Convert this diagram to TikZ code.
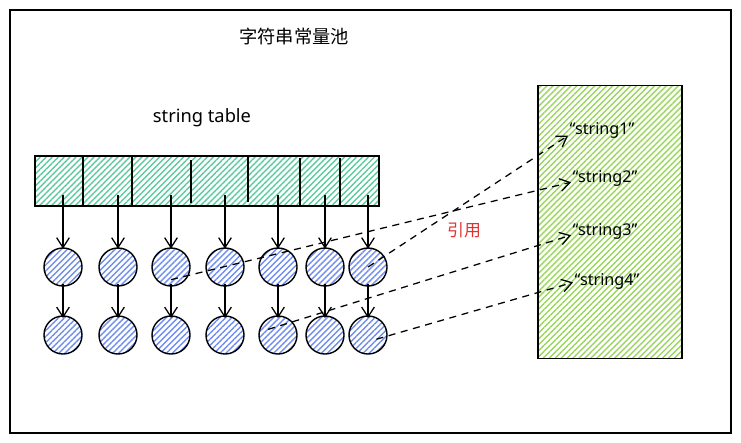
\documentclass[tikz,border=0pt]{standalone}
\usepackage{fontspec}
\setmainfont{Noto Sans}
\newfontfamily\cjk{Noto Sans CJK SC}
\usetikzlibrary{arrows.meta,patterns.meta}
\definecolor{tealhatch}{HTML}{5CCB9F}
\definecolor{bluehatch}{HTML}{6F8EF0}
\definecolor{limehatch}{HTML}{9AD65E}
\definecolor{refred}{HTML}{E03131}
\tikzset{
  hatch/.style={pattern={Lines[angle=45,distance=3pt,line width=1pt]},pattern color=#1},
  slot/.style={circle,draw,line width=1pt,minimum size=0.95cm,inner sep=0pt,hatch=bluehatch},
  ptr/.style={-{Straight Barb[length=7pt,width=9pt]},line width=0.9pt},
  ref/.style={ptr,dashed,dash pattern=on 5pt off 4pt},
  strlit/.style={anchor=west,font=\fontsize{11.5}{13}\selectfont,inner sep=1pt}
}
\begin{document}
\begin{tikzpicture}[x=0.025cm,y=-0.025cm]
		\useasboundingbox (0,0) rectangle (741,442);
		\draw[line width=1.1pt] (10,10) rectangle (731,433);
		\node[font=\cjk\fontsize{13}{15}\selectfont] (title) at (294,36) {字符串常量池};
		\node[font=\fontsize{13}{15}\selectfont] (tbllabel) at (202,118) {string table};
		% string table
		\node[draw,line width=1pt,hatch=tealhatch,minimum width=344*0.025cm,minimum height=50*0.025cm,inner sep=0pt] (tbl) at (207,181) {};
		\foreach \x/\ya/\yb in {83/156/206,132/155/207,191/160/203,248/157/202,300/158/205,340/158/207}
			\draw[line width=1pt] (\x,\ya) -- (\x,\yb);
		% buckets
		\foreach \x [count=\i] in {63,118,171,225,278,325,368} {
			\node[slot] (r1c\i) at (\x,267) {};
			\node[slot] (r2c\i) at (\x,335) {};
			\draw[ptr] ([yshift=8pt]tbl.south -| r1c\i) -- ([yshift=-1pt]r1c\i.north);
			\draw[ptr] ([yshift=2pt]r1c\i.south) -- ([yshift=-2pt]r2c\i.north);
		}
		% constant pool
		\node[draw,line width=1pt,hatch=limehatch,minimum width=144*0.025cm,minimum height=273*0.025cm,inner sep=0pt] (pool) at (610,222) {};
		\node[strlit] (s1) at (568,130) {“string1”};
		\node[strlit] (s2) at (571,178) {“string2”};
		\node[strlit] (s3) at (571,231) {“string3”};
		\node[strlit] (s4) at (573,281) {“string4”};
		\draw[ref] ([yshift=-9pt]r1c3.center) -- ([yshift=-3pt]s2.west);
		\draw[ref] (r1c7.center) -- ([yshift=-4pt]s1.west);
		\draw[ref] ([shift={(-7pt,4pt)}]r2c5.center) -- ([yshift=-3pt]s3.west);
		\draw[ref] ([shift={(6pt,-3pt)}]r2c7.center) -- ([yshift=-1pt]s4.west);
		\node[font=\cjk\fontsize{12}{14}\selectfont,text=refred] (reflabel) at (464,230) {引用};
\end{tikzpicture}
\end{document}
